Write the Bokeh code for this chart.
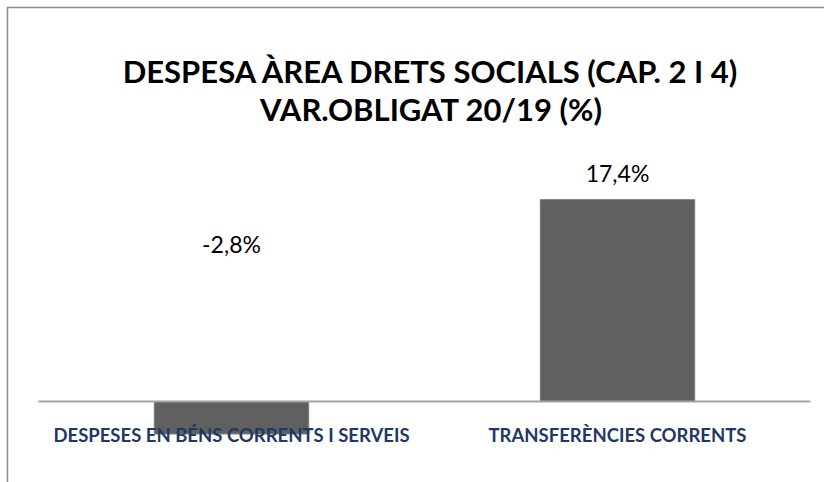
from bokeh.plotting import figure
from bokeh.models import Range1d, ColumnDataSource
from bokeh.core.properties import value
from bokeh.embed import file_html
from bokeh.resources import INLINE

# Chart data
categories = ["Despeses en béns corrents i serveis", "Transferències corrents"]
variation = [-2.8, 17.4]  # Var. obligat 2020 vs 2019, in %
title_lines = ["Despesa Àrea Drets Socials (Cap. 2 i 4)", "Var.Obligat 20/19 (%)"]


def pct(v):
    return f"{v:.1f}%".replace(".", ",")


# One unit per category; bands are 386 px wide on the frame
positions = list(range(len(categories)))
x_range = Range1d(-0.5777, 1.5363)
y_range = Range1d(-6.983, 33.879)

p = figure(width=818, height=476, output_backend="svg", toolbar_location=None,
           x_range=x_range, y_range=y_range,
           x_axis_location=None, y_axis_location=None,
           min_border_left=2, min_border_top=2,
           min_border_right=0, min_border_bottom=0)
p.margin = (6, 0, 0, 6)
p.border_fill_color = "#8c8c8c"
p.background_fill_color = "white"
p.outline_line_color = None
p.grid.visible = False

bars = ColumnDataSource(dict(
    x=positions,
    val=variation,
    label=[pct(v) for v in variation],
    label_y=[v if v >= 0 else 0 for v in variation],
    label_off=[-27 if v >= 0 else -157 for v in variation],
    name=[c.upper() for c in categories],
))

p.vbar(x="x", top="val", bottom=0, width=0.4, source=bars,
       fill_color="#606060", line_color="#7c7c7c", line_width=1)

# Zero line across both category bands
p.segment(x0=[positions[0] - 0.5], y0=[0], x1=[positions[-1] + 0.5], y1=[0],
          line_color="#a3a3a3", line_width=2)

# Value labels
p.text(x="x", y="label_y", text="label", y_offset="label_off", source=bars,
       text_align="center", text_baseline="middle",
       text_font=value("Lato"), text_font_size="23px", text_color="#000000")

# Category names under the zero line
p.text(x="x", y=0, text="name", y_offset=34, source=bars,
       text_align="center", text_baseline="middle",
       text_font=value("Lato"), text_font_style="bold",
       text_font_size="18.5px", text_color="#1f3864")

# Two-line title
titles = ColumnDataSource(dict(
    x=[(positions[0] + positions[-1]) / 2] * len(title_lines),
    y=[y_range.end] * len(title_lines),
    text=[t.upper() for t in title_lines],
    off=[62, 100],
))
p.text(x="x", y="y", text="text", y_offset="off", x_offset=7, source=titles,
       text_align="center", text_baseline="middle",
       text_font=value("Lato"), text_font_style="bold",
       text_font_size="31px", text_color="#000000")

open("out.html", "w").write(file_html(p, INLINE))
